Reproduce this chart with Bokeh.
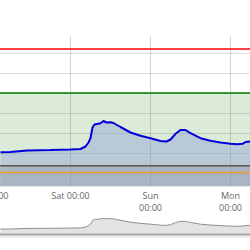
import pandas as pd
from bokeh.plotting import figure
from bokeh.models import Range1d, FixedTicker, Span, ColumnDataSource
from bokeh.layouts import column
from bokeh.embed import file_html
from bokeh.resources import INLINE

# ---- data ----
times = [
    "2023-03-03 03:00", "2023-03-03 06:00", "2023-03-03 11:00", "2023-03-03 18:00",
    "2023-03-04 00:00", "2023-03-04 03:00", "2023-03-04 04:30", "2023-03-04 05:24",
    "2023-03-04 06:00", "2023-03-04 06:36", "2023-03-04 07:12", "2023-03-04 09:00",
    "2023-03-04 09:54", "2023-03-04 10:48", "2023-03-04 12:00", "2023-03-04 12:54",
    "2023-03-04 15:00", "2023-03-04 18:00", "2023-03-04 21:00", "2023-03-05 00:00",
    "2023-03-05 03:00", "2023-03-05 04:48", "2023-03-05 06:00", "2023-03-05 07:30",
    "2023-03-05 09:00", "2023-03-05 10:30", "2023-03-05 12:00", "2023-03-05 15:00",
    "2023-03-05 18:00", "2023-03-05 21:00", "2023-03-06 00:00", "2023-03-06 02:06",
    "2023-03-06 03:36", "2023-03-06 04:30", "2023-03-06 06:00",
]
values = [
    4.08, 4.10, 4.25, 4.30,
    4.35, 4.40, 4.65, 5.05,
    5.48, 6.55, 6.85, 6.98,
    7.20, 7.05, 7.08, 7.00,
    6.60, 6.05, 5.72, 5.48,
    5.20, 5.15, 5.35, 5.92,
    6.30, 6.30, 5.98, 5.48,
    5.22, 5.05, 4.92, 4.88,
    4.92, 5.10, 5.15,
]
day_ticks = ["2023-03-03 00:00", "2023-03-04 00:00", "2023-03-05 00:00", "2023-03-06 00:00"]
day_labels = ["Fri 00:00", "Sat 00:00", "Sun\n00:00", "Mon\n00:00"]
# visible window starts at the first sample; the chart itself begins a little earlier
# (the reference is cropped so that the Fri label is cut at the left edge)
x_start = "2023-03-02 18:00"
x_end = "2023-03-06 06:00"
crop_px = 30

y_grid = [2, 4, 6, 8, 10, 12, 14]
y_min, y_max = 0.65, 15.65
limit_high = 14.4
target_high = 10.0
target_low = 2.72
limit_low = 2.05

nav_bottom, nav_base, nav_top = 1.34, 2.5, 7.7


def ms(s):
    return pd.Timestamp(s).value / 1e6


src = ColumnDataSource(dict(t=pd.to_datetime(times), v=values))
xs, xe = ms(x_start), ms(x_end)

FONT = "Open Sans"
W = 250 + crop_px

# ---- main chart ----
p = figure(
    x_axis_type="datetime",
    x_range=Range1d(xs, xe),
    y_range=Range1d(y_min, y_max),
    frame_width=W, frame_height=150,
    min_border_top=36, min_border_left=0, min_border_right=0, min_border_bottom=28,
    y_axis_location=None,
    toolbar_location=None, output_backend="svg",
    outline_line_color=None,
)

# bands
p.quad(left=xs, right=xe, bottom=target_low, top=target_high,
       fill_color="#dcebd8", line_color=None, level="image")
p.quad(left=xs, right=xe, bottom=y_min, top=target_low,
       fill_color="#bcc3b0", line_color=None, level="image")

# area + line
p.varea(x="t", y1=y_min, y2="v", source=src, fill_color="#96a7d4", fill_alpha=0.5)
p.line(x="t", y="v", source=src, line_color="#0000dd", line_width=2)

for loc, col in [(limit_high, "#ff0000"), (target_high, "#008000"),
                 (target_low, "#5f5449"), (limit_low, "#f0a030")]:
    p.add_layout(Span(location=loc, dimension="width", line_color=col, line_width=1.6))

# grids
p.xgrid.grid_line_color = "#000000"
p.xgrid.grid_line_alpha = 0.17
p.ygrid.ticker = FixedTicker(ticks=y_grid)
p.ygrid.grid_line_color = "#000000"
p.ygrid.grid_line_alpha = 0.13

# x axis
ax = p.xaxis[0]
ax.ticker = FixedTicker(ticks=[ms(t) for t in day_ticks])
ax.major_label_overrides = {ms(t): lab for t, lab in zip(day_ticks, day_labels)}
ax.axis_line_color = None
ax.major_tick_line_color = None
ax.minor_tick_line_color = None
ax.major_tick_out = 0
ax.major_tick_in = 0
ax.major_label_standoff = 2
ax.major_label_text_font = FONT
ax.major_label_text_font_size = "9px"
ax.major_label_text_color = "#666666"
ax.major_label_text_line_height = 0.95

# ---- navigator ----
n = figure(
    x_range=p.x_range,
    y_range=Range1d(nav_bottom, nav_top),
    frame_width=W, frame_height=22,
    min_border_top=0, min_border_left=0, min_border_right=0, min_border_bottom=14,
    x_axis_location=None, y_axis_location=None,
    toolbar_location=None, output_backend="svg",
    outline_line_color=None,
)
n.xgrid.visible = False
n.ygrid.visible = False
n.quad(left=xs, right=xe, bottom=nav_bottom, top=nav_base,
       fill_color="#efefef", line_color=None)
n.varea(x="t", y1=nav_base, y2="v", source=src, fill_color="#e3e3e3")
n.line(x="t", y="v", source=src, line_color="#8f8f8f", line_width=1)
n.add_layout(Span(location=nav_base, dimension="width", line_color="#a8a8a8", line_width=2))

layout = column(p, n, spacing=0, margin=(0, 0, 0, -crop_px))
open("out.html", "w").write(file_html(layout, INLINE))
